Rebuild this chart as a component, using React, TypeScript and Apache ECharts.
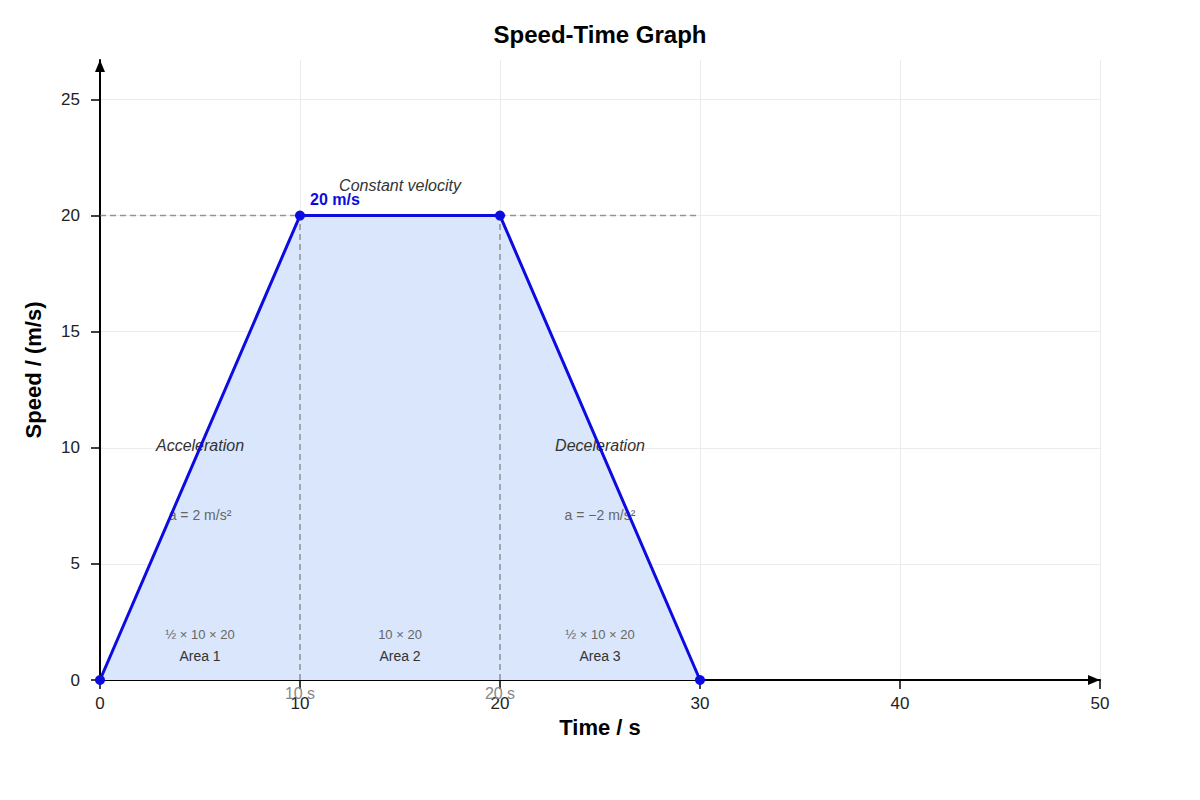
import * as echarts from "echarts";
import { useEffect, useRef } from "react";

const FONT = "'Liberation Sans', Arial, sans-serif";

// motion profile: time (s) and speed (m/s)
const times = [0, 10, 20, 30];
const speeds = [0, 20, 20, 0];

const yTicks = [0, 5, 10, 15, 20, 25];

// dashed guide lines [x1, y1, x2, y2]
const guides = [
    [0, 20, 30, 20],
    [10, 0, 10, 20],
    [20, 0, 20, 20],
];

// phase names
const phaseLabels: [number, number, string][] = [
    [5, 10.1, "Acceleration"],
    [25, 10.1, "Deceleration"],
    [15, 21.3, "Constant velocity"],
];
const accelLabels: [number, number, string][] = [
    [5, 7.1, "a = 2 m/s²"],
    [25, 7.1, "a = −2 m/s²"],
];
const areaFormulas: [number, number, string][] = [
    [5, 1.95, "½ × 10 × 20"],
    [15, 1.95, "10 × 20"],
    [25, 1.95, "½ × 10 × 20"],
];
const areaNames: [number, number, string][] = [
    [5, 1.05, "Area 1"],
    [15, 1.05, "Area 2"],
    [25, 1.05, "Area 3"],
];
const timeMarks: [number, number, string][] = [
    [10, -0.6, "10 s"],
    [20, -0.6, "20 s"],
];
const speedMark: [number, number, string][] = [[10.5, 20.7, "20 m/s"]];

const BLUE = "#0c0ce0";

const textSeries = (
    items: [number, number, string][],
    style: Record<string, unknown>,
) => ({
    type: "scatter",
    z: 3,
    silent: true,
    clip: false,
    symbolSize: 0,
    itemStyle: { opacity: 1 },
    data: items.map(([x, y, t]) => ({ value: [x, y], name: t })),
    label: {
        show: true,
        position: "inside",
        formatter: (p: { name: string }) => p.name,
        fontFamily: FONT,
        opacity: 1,
        ...style,
    },
});

const App: React.FC = () => {
    const chartRef = useRef<HTMLDivElement>(null);

    useEffect(() => {
        document.body.style.margin = "0";
        const chart = echarts.init(chartRef.current!, undefined, { renderer: "svg" });
        const points = times.map((t, i) => [t, speeds[i]]);

        const axisCommon = {
            axisLine: {
                show: true,
                symbol: ["none", "triangle"],
                symbolSize: [10, 12],
                symbolOffset: [0, -6],
                lineStyle: { color: "#000", width: 2 },
            },
            axisTick: { show: true, length: 9, lineStyle: { color: "#000", width: 1.5 } },
            splitLine: { show: true, lineStyle: { color: "#ebebeb", width: 1 } },
            nameTextStyle: { fontFamily: FONT, fontSize: 22, fontWeight: "bold", color: "#000" },
        };

        chart.setOption({
            animation: false,
            backgroundColor: "#fff",
            title: {
                text: "Speed-Time Graph",
                left: "center",
                top: 17,
                textStyle: { fontFamily: FONT, fontSize: 24, fontWeight: "bold", color: "#000" },
            },
            grid: { left: 100, right: 100, top: 60, bottom: 120, containLabel: false },
            xAxis: {
                type: "value",
                min: 0,
                max: 50,
                interval: 10,
                name: "Time / s",
                nameLocation: "middle",
                nameGap: 31,
                ...axisCommon,
                axisLabel: { fontFamily: FONT, fontSize: 17, color: "#222", margin: 15 },
            },
            yAxis: {
                type: "value",
                min: 0,
                max: 26.7,
                interval: 5,
                name: "Speed / (m/s)",
                nameLocation: "middle",
                nameGap: 56,
                ...axisCommon,
                axisTick: { ...axisCommon.axisTick, customValues: yTicks },
                axisLabel: {
                    fontFamily: FONT,
                    fontSize: 17,
                    color: "#222",
                    margin: 20,
                    customValues: yTicks,
                },
            },
            series: [
                {
                    type: "line",
                    z: 1,
                    silent: true,
                    data: points,
                    symbol: "none",
                    lineStyle: { width: 0 },
                    areaStyle: { color: "#d9e6fb", opacity: 1 },
                },
                ...guides.map(([x1, y1, x2, y2]) => ({
                    type: "line",
                    z: 2,
                    silent: true,
                    symbol: "none",
                    data: [
                        [x1, y1],
                        [x2, y2],
                    ],
                    lineStyle: { color: "rgba(110,110,110,0.7)", width: 1.5, type: [6, 4] },
                })),
                textSeries(phaseLabels, { fontSize: 16, fontStyle: "italic", color: "#333" }),
                textSeries(accelLabels, { fontSize: 14, color: "#666" }),
                textSeries(areaFormulas, { fontSize: 13, color: "#666" }),
                textSeries(areaNames, { fontSize: 14, color: "#333" }),
                textSeries(timeMarks, { fontSize: 16, color: "#888" }),
                {
                    type: "line",
                    z: 4,
                    data: points,
                    symbol: "circle",
                    symbolSize: 10,
                    itemStyle: { color: BLUE },
                    lineStyle: { color: BLUE, width: 3 },
                },
                {
                    ...textSeries(speedMark, {
                        fontSize: 16,
                        fontWeight: "bold",
                        color: BLUE,
                        align: "left",
                    }),
                    z: 5,
                },
            ],
        });

        return () => {
            chart.dispose();
        };
    }, []);

    return <div ref={chartRef} style={{ width: "1200px", height: "800px" }} />;
};

export default App;
